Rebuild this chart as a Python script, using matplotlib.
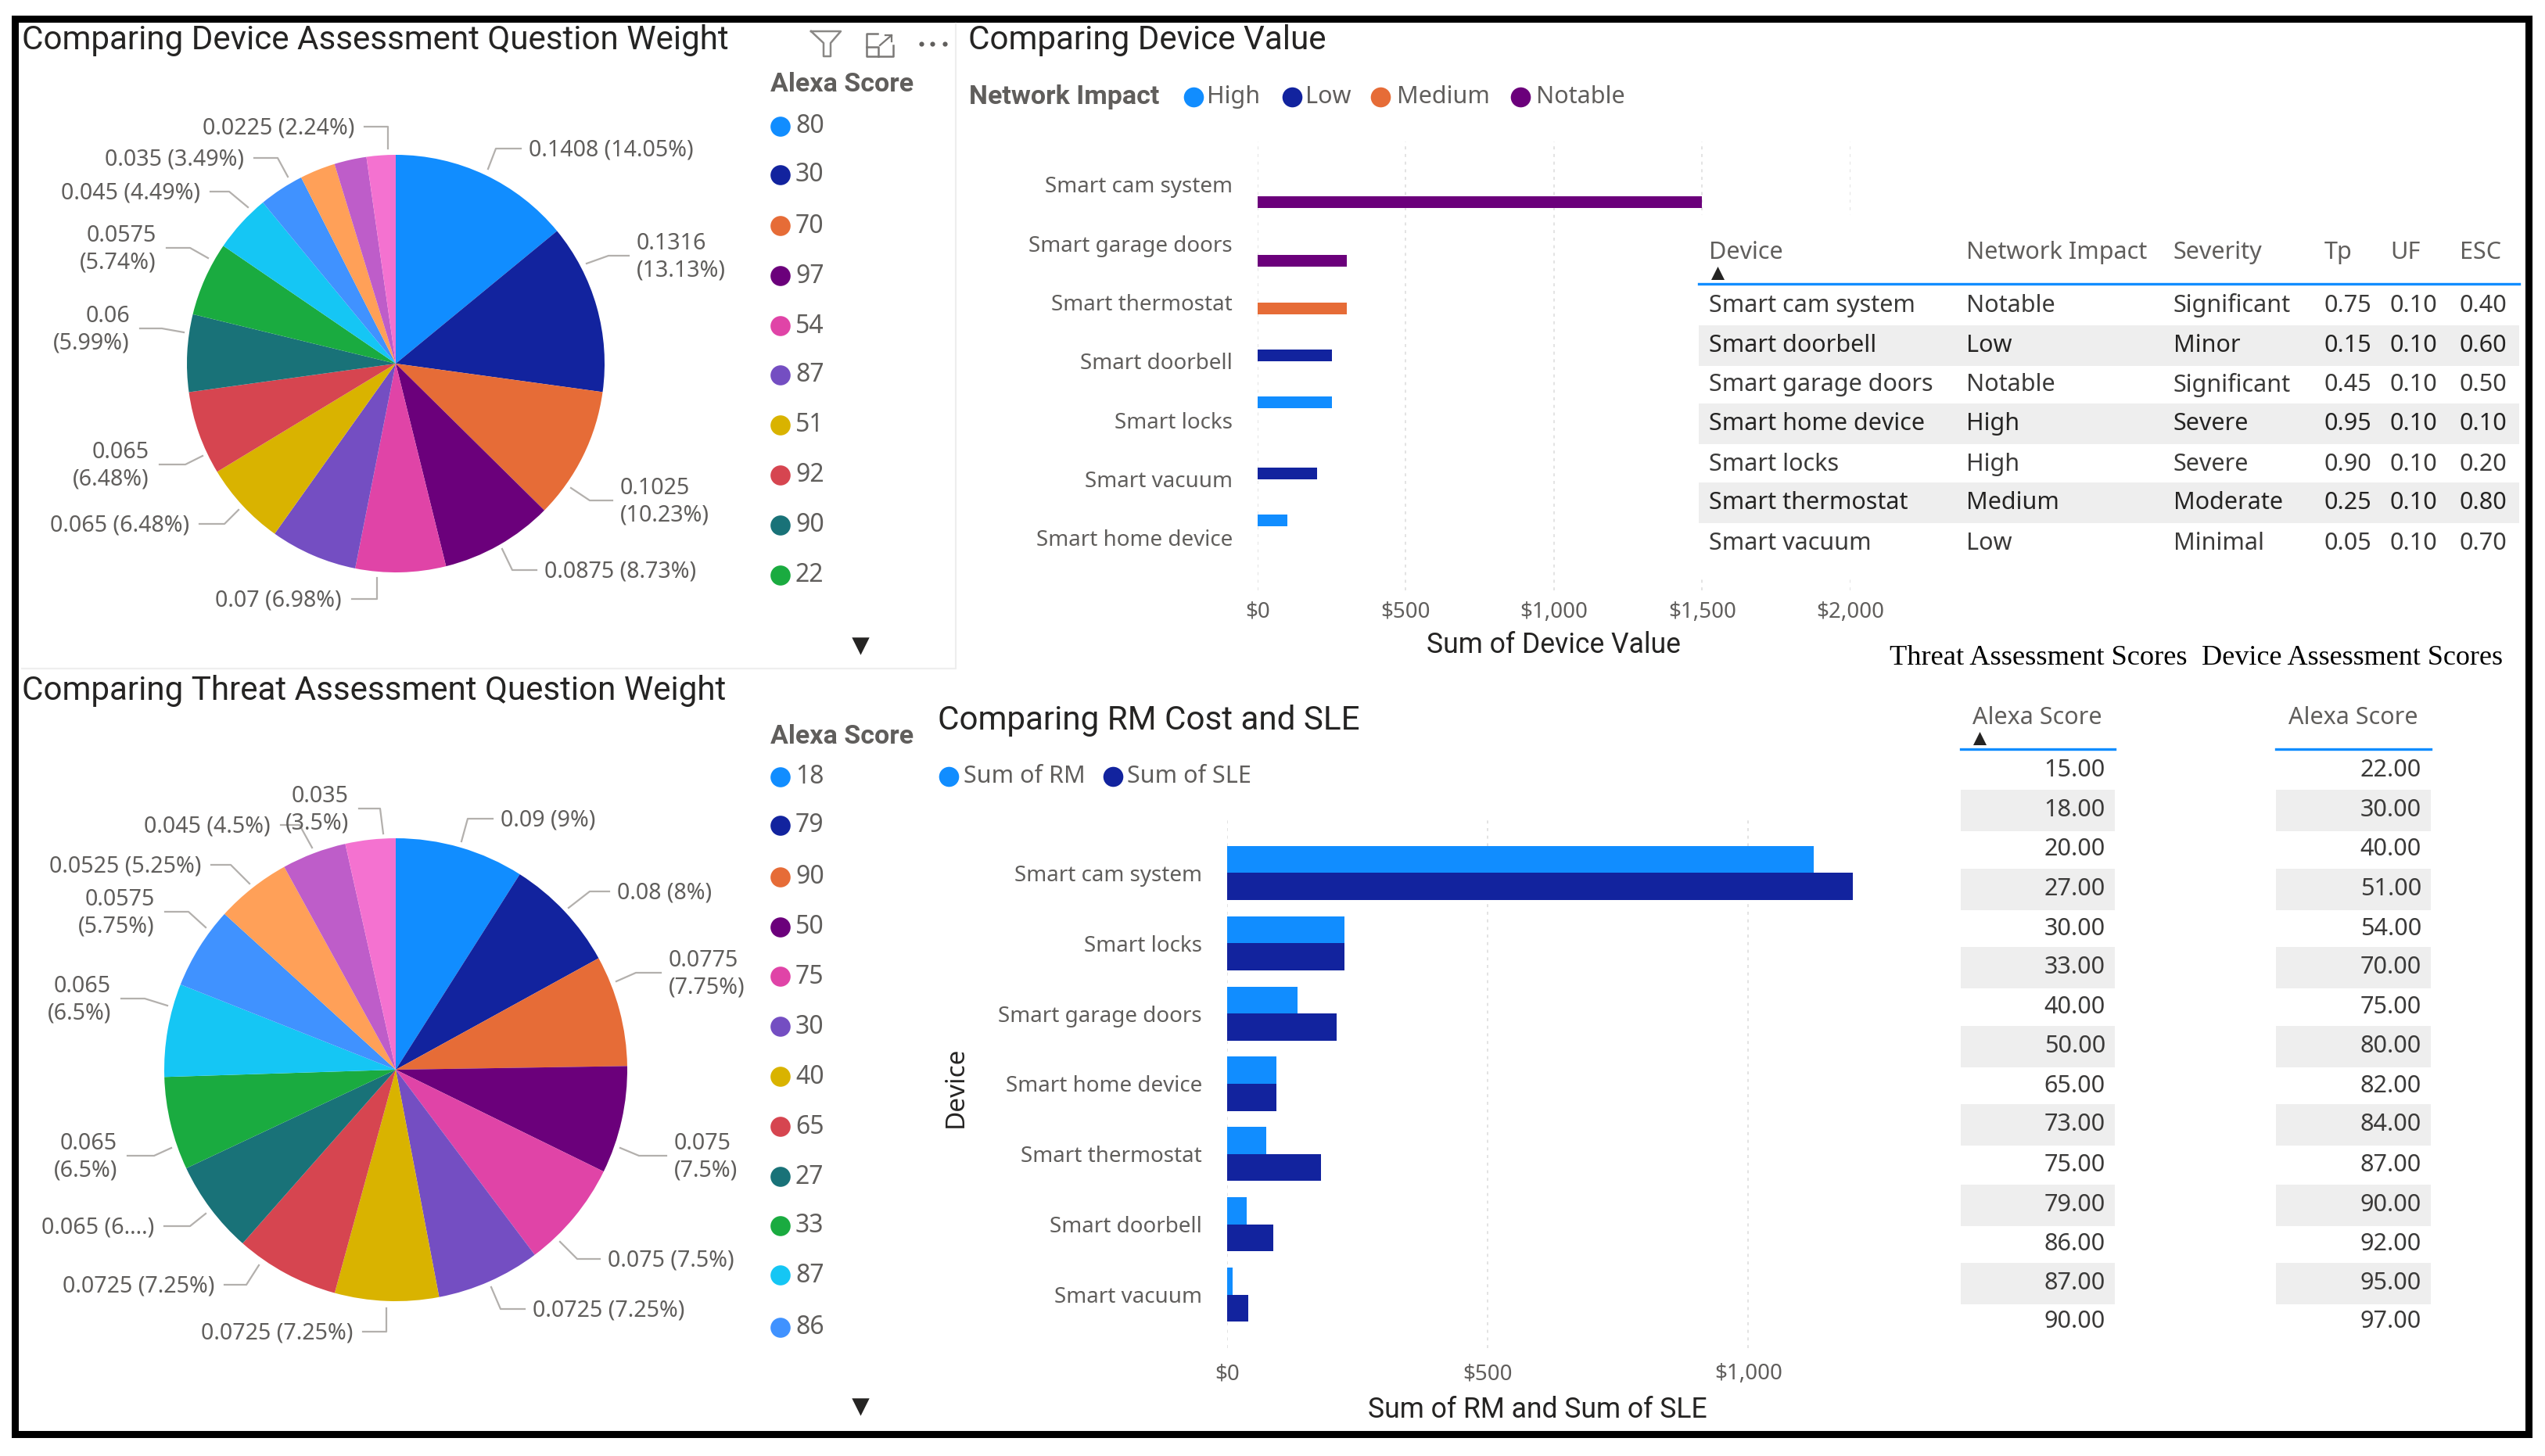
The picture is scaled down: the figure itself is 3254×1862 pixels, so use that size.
"""
Power BI style dashboard: device / threat question weights, device value, RM vs SLE.
All layout numbers are in pixels of the 3255x1862 output.
"""
import numpy as np
import matplotlib
matplotlib.use("Agg")
import matplotlib.pyplot as plt
from matplotlib.patches import Rectangle

W, H = 3255, 1862

PALETTE = ["#118DFF", "#12239E", "#E66C37", "#6B007B", "#E044A7", "#744EC2", "#D9B300",
           "#D64550", "#197278", "#1AAB40", "#15C6F4", "#4092FF", "#FFA058", "#BE5DC9", "#F472D0"]

# device question weights (three slices carry no label in the picture)
device_weights = [0.1408, 0.1316, 0.1025, 0.0875, 0.07, 0.0675, 0.065, 0.065,
                  0.06, 0.0575, 0.045, 0.035, 0.0275, 0.025, 0.0225]
device_labels = ["0.1408 (14.05%)", "0.1316\n(13.13%)", "0.1025\n(10.23%)", "0.0875 (8.73%)",
                 "0.07 (6.98%)", None, "0.065 (6.48%)", "0.065\n(6.48%)", "0.06\n(5.99%)",
                 "0.0575\n(5.74%)", "0.045 (4.49%)", "0.035 (3.49%)", None, None, "0.0225 (2.24%)"]
device_legend = ["80", "30", "70", "97", "54", "87", "51", "92", "90", "22"]

threat_weights = [0.09, 0.08, 0.0775, 0.075, 0.075, 0.0725, 0.0725, 0.0725,
                  0.065, 0.065, 0.065, 0.0575, 0.0525, 0.045, 0.035]
threat_labels = ["0.09 (9%)", "0.08 (8%)", "0.0775\n(7.75%)", "0.075\n(7.5%)", "0.075 (7.5%)",
                 "0.0725 (7.25%)", "0.0725 (7.25%)", "0.0725 (7.25%)", "0.065 (6....)",
                 "0.065\n(6.5%)", "0.065\n(6.5%)", "0.0575\n(5.75%)", "0.0525 (5.25%)",
                 "0.045 (4.5%)", "0.035\n(3.5%)"]
threat_legend = ["18", "79", "90", "50", "75", "30", "40", "65", "27", "33", "87", "86"]

value_devices = ["Smart cam system", "Smart garage doors", "Smart thermostat", "Smart doorbell",
                 "Smart locks", "Smart vacuum", "Smart home device"]
value_amounts = [1500, 300, 300, 250, 250, 200, 100]
value_impacts = ["Notable", "Notable", "Medium", "Low", "High", "Low", "High"]
impact_names = ["High", "Low", "Medium", "Notable"]

cost_devices = ["Smart cam system", "Smart locks", "Smart garage doors", "Smart home device",
                "Smart thermostat", "Smart doorbell", "Smart vacuum"]
sum_rm = [1125, 225, 135, 95, 75, 38, 10]
sum_sle = [1200, 225, 210, 95, 180, 88, 40]

table_columns = ["Device", "Network Impact", "Severity", "Tp", "UF", "ESC"]
table_rows = [
    ["Smart cam system", "Notable", "Significant", "0.75", "0.10", "0.40"],
    ["Smart doorbell", "Low", "Minor", "0.15", "0.10", "0.60"],
    ["Smart garage doors", "Notable", "Significant", "0.45", "0.10", "0.50"],
    ["Smart home device", "High", "Severe", "0.95", "0.10", "0.10"],
    ["Smart locks", "High", "Severe", "0.90", "0.10", "0.20"],
    ["Smart thermostat", "Medium", "Moderate", "0.25", "0.10", "0.80"],
    ["Smart vacuum", "Low", "Minimal", "0.05", "0.10", "0.70"],
]
threat_scores = [15, 18, 20, 27, 30, 33, 40, 50, 65, 73, 75, 79, 86, 87, 90]
device_scores = [22, 30, 40, 51, 54, 70, 75, 80, 82, 84, 87, 90, 92, 95, 97]

# layout only: leader start x, start y, elbow x, elbow y, end x for each labelled slice
device_leaders = {0: (624, 216, 634, 190, 666), 1: (750, 337, 778, 327, 804), 2: (730, 624, 754, 640, 783),
                  3: (642, 702, 655, 729, 686), 4: (482, 739, 482, 766, 450), 6: (305, 652, 287, 670, 255),
                  7: (259, 583, 237, 594, 204), 8: (235, 425, 207, 420, 179), 9: (266, 330, 243, 317, 213),
                  10: (317, 265, 293, 245, 269), 11: (368, 226, 355, 202, 325), 14: (496, 190, 496, 162, 466)}
threat_leaders = {0: (590, 1076, 598, 1047, 630), 1: (727, 1161, 754, 1140, 779), 2: (788, 1255, 813, 1244, 845),
                  3: (793, 1468, 817, 1478, 852), 4: (716, 1588, 738, 1610, 767), 5: (628, 1646, 640, 1674, 671),
                  6: (494, 1673, 494, 1703, 464), 7: (331, 1618, 315, 1643, 287), 8: (263, 1552, 243, 1568, 210),
                  9: (219, 1468, 197, 1478, 163), 10: (214, 1286, 185, 1277, 155), 11: (263, 1186, 241, 1166, 211),
                  12: (319, 1130, 295, 1106, 270), 13: (399, 1084, 383, 1055, 359), 14: (490, 1066, 486, 1034, 459)}
device_legend_y = [162, 224, 289, 353, 417, 480, 544, 608, 672, 736]
threat_legend_y = [994, 1056, 1122, 1186, 1249, 1313, 1377, 1441, 1505, 1568, 1631, 1698]

BODY = ["Noto Sans", "DejaVu Sans"]
HEAD = ["Roboto", "DejaVu Sans"]
DARK = "#252423"
GREY = "#605E5C"
BAND = "#EEEEEE"
BLUE_RULE = "#118DFF"
ICON = "#8A8886"

plt.rcParams["font.family"] = BODY

fig = plt.figure(figsize=(W / 100, H / 100), dpi=100, facecolor="white")


def px_axes(x0, y0, x1, y1, **kw):
    return fig.add_axes([x0 / W, 1 - y1 / H, (x1 - x0) / W, (y1 - y0) / H], **kw)


# overlay in pixel coordinates for texts, legends and the tables
ov = px_axes(0, 0, W, H, zorder=5)
ov.set_xlim(0, W)
ov.set_ylim(H, 0)
ov.axis("off")


def draw_pie(values, labels, leaders, cx, cy, r):
    ax = px_axes(cx - r, cy - r, cx + r, cy + r)
    ax.pie(values, colors=PALETTE, startangle=90, counterclock=False, radius=1)
    ax.set_xlim(-1, 1)
    ax.set_ylim(-1, 1)
    for i, label in enumerate(labels):
        if label is None:
            continue
        sx, sy, ex, ey, tx = leaders[i]
        ov.plot([sx, ex, tx], [sy, ey, ey], color="#B3B0AD", lw=1.6)
        if tx > ex:
            ov.text(tx + 10, ey + 2, label, ha="left", va="center", fontsize=20.6, color=GREY,
                    linespacing=1.25, multialignment="left")
        else:
            ov.text(tx - 13, ey + 2, label, ha="right", va="center", fontsize=20.6, color=GREY,
                    linespacing=1.25, multialignment="right")


def legend_column(names, ys, title_y, colors):
    ov.text(985, title_y, "Alexa Score", fontsize=24.5, color=GREY, fontweight="bold", va="center",
            family=HEAD)
    ov.scatter([998] * len(names), ys, s=340, c=colors[:len(names)], linewidths=0)
    for name, y in zip(names, ys):
        ov.text(1017, y, name, fontsize=23, color=GREY, va="center")


def down_arrow(x, y):
    ov.scatter([x], [y], marker="v", s=260, c="#252423", linewidths=0)


# outer frame and the light panel edge
ov.add_patch(Rectangle((19, 24), 3214, 1810, fill=False, ec="black", lw=6.5))
ov.plot([1222, 1222, 28], [30, 855, 855], color="#EEEEEE", lw=1.6)

# top left pie
ov.text(28, 52, "Comparing Device Assessment Question Weight", fontsize=30.3, color=DARK, va="center", family=HEAD)
draw_pie(device_weights, device_labels, device_leaders, 506, 465, 267)
legend_column(device_legend, device_legend_y, 108, PALETTE)
down_arrow(1100, 826)

# bottom left pie
ov.text(28, 884, "Comparing Threat Assessment Question Weight", fontsize=30.3, color=DARK, va="center", family=HEAD)
draw_pie(threat_weights, threat_labels, threat_leaders, 506, 1368, 296)
legend_column(threat_legend, threat_legend_y, 942, PALETTE)
down_arrow(1100, 1799)

# header icons of the first visual: filter, focus mode, more options
ov.plot([1037, 1075, 1062, 1062, 1053, 1053, 1037], [40, 40, 55, 72, 72, 55, 40], color=ICON, lw=1.8)
ov.plot([1122, 1108, 1108, 1142, 1142], [43, 43, 72, 72, 58], color="#7A7876", lw=1.8)
ov.plot([1108, 1123, 1123], [60, 60, 72], color="#7A7876", lw=1.8)
ov.plot([1125, 1140], [58, 45], color="#7A7876", lw=1.6)
ov.plot([1132, 1140, 1140], [45, 45, 53], color="#7A7876", lw=1.6)
ov.scatter([1178, 1192, 1208], [56, 56, 56], s=20, c=GREY, linewidths=0)

# device value bars, one slot per network impact inside each category
ax1 = px_axes(1608, 181, 2366, 755)
impact_colors = dict(zip(impact_names, PALETTE))
impact_index = [impact_names.index(v) for v in value_impacts]
ypos = np.arange(len(value_devices)) + (np.array(impact_index) - 1.5) * 0.2
ax1.barh(ypos, value_amounts, height=0.2, color=[impact_colors[v] for v in value_impacts], zorder=3)
ax1.set_xlim(0, 2000)
ax1.set_ylim(6.89, -0.73)
ax1.set_yticks(range(len(value_devices)), value_devices)
ax1.set_xticks([0, 500, 1000, 1500, 2000], ["$0", "$500", "$1,000", "$1,500", "$2,000"])
ax1.tick_params(length=0, labelsize=20, labelcolor=GREY)
ax1.tick_params(axis="y", pad=23)
ax1.tick_params(axis="x", pad=10)
ax1.grid(axis="x", color="#E3E3E3", linestyle=(0, (2, 3)), lw=1.4, zorder=0)
for s in ax1.spines.values():
    s.set_visible(False)

ov.text(1238, 52, "Comparing Device Value", fontsize=30.3, color=DARK, va="center", family=HEAD)
ov.text(1239, 124, "Network Impact", fontsize=24.5, color=GREY, fontweight="bold", va="center", family=HEAD)
for name, dot_x, text_x in zip(impact_names, [1526, 1652, 1765, 1944], [1543, 1669, 1786, 1964]):
    ov.scatter([dot_x], [124], s=340, c=impact_colors[name], linewidths=0)
    ov.text(text_x, 124, name, fontsize=22, color=GREY, va="center")
ov.text(1986, 825, "Sum of Device Value", fontsize=25.6, color=DARK, ha="center", va="center", family=HEAD)

# detail table sits on top of the bar chart
ov.add_patch(Rectangle((2160, 275), 1065, 461, fc="white", ec="none"))
col_x = [2185, 2514, 2779, 2972, 3056, 3145]
row_y = [391, 442, 492, 542, 594, 643, 695]
for x, name in zip(col_x, table_columns):
    ov.text(x, 323, name, fontsize=22, color=GREY, va="center")
ov.scatter([2196], [349], marker="^", s=150, c="#252423", linewidths=0)
ov.plot([2172, 3221], [363, 363], color=BLUE_RULE, lw=2.4)
for i, (y, row) in enumerate(zip(row_y, table_rows)):
    if i % 2 == 1:
        ov.add_patch(Rectangle((2172, y - 26), 1049, 52, fc=BAND, ec="none"))
    for x, cell in zip(col_x, row):
        ov.text(x, y, cell, fontsize=22, color=DARK if i % 2 == 1 else "#3B3A39", va="center")

# RM vs SLE bars
ax2 = px_axes(1569, 1048, 2402, 1724)
pos = np.arange(len(cost_devices))
ax2.barh(pos - 0.192, sum_rm, height=0.385, color=PALETTE[0], zorder=3)
ax2.barh(pos + 0.192, sum_sle, height=0.385, color=PALETTE[1], zorder=3)
ax2.set_xlim(0, 1250)
ax2.set_ylim(6.76, -0.76)
ax2.set_yticks(pos, cost_devices)
ax2.set_xticks([0, 500, 1000], ["$0", "$500", "$1,000"])
ax2.tick_params(length=0, labelsize=20, labelcolor=GREY)
ax2.tick_params(axis="y", pad=23)
ax2.tick_params(axis="x", pad=14)
ax2.grid(axis="x", color="#E3E3E3", linestyle=(0, (2, 3)), lw=1.4, zorder=0)
for s in ax2.spines.values():
    s.set_visible(False)

ov.text(1199, 921, "Comparing RM Cost and SLE", fontsize=30.3, color=DARK, va="center", family=HEAD)
for name, dot_x, text_x, color in zip(["Sum of RM", "Sum of SLE"], [1213, 1423], [1232, 1441], PALETTE):
    ov.scatter([dot_x], [993], s=340, c=color, linewidths=0)
    ov.text(text_x, 993, name, fontsize=22, color=GREY, va="center")
ov.text(1966, 1803, "Sum of RM and Sum of SLE", fontsize=25.6, color=DARK, ha="center", va="center", family=HEAD)
ov.text(1222, 1390, "Device", fontsize=24, color=DARK, rotation=90, ha="center", va="center", fontweight="bold")

# score tables
ov.text(2416, 842, "Threat Assessment Scores", fontsize=26.2, family=["Liberation Serif"], color="black", va="center")
ov.text(2815, 842, "Device Assessment Scores", fontsize=26, family=["Liberation Serif"], color="black", va="center")
score_y = [985, 1036, 1086, 1137, 1188, 1237, 1288, 1338, 1389, 1438, 1490, 1541, 1591, 1641, 1690]
for x0, x1, mid, right, scores in [(2507, 2704, 2605, 2692, threat_scores), (2910, 3108, 3009, 3096, device_scores)]:
    ov.text(mid, 918, "Alexa Score", fontsize=22, color=GREY, ha="center", va="center")
    ov.plot([x0, x1], [958, 958], color=BLUE_RULE, lw=2.4)
    for i, (y, score) in enumerate(zip(score_y, scores)):
        if i % 2 == 1:
            ov.add_patch(Rectangle((x0, y - 26), x1 - x0, 53, fc=BAND, ec="none"))
        ov.text(right, y, f"{score:.2f}", fontsize=22, color="#3B3A39", ha="right", va="center")
ov.scatter([2531], [944], marker="^", s=150, c="#252423", linewidths=0)

ov.set_xlim(0, W)
ov.set_ylim(H, 0)
fig.savefig("out.png", dpi=100, facecolor="white")
plt.close(fig)
